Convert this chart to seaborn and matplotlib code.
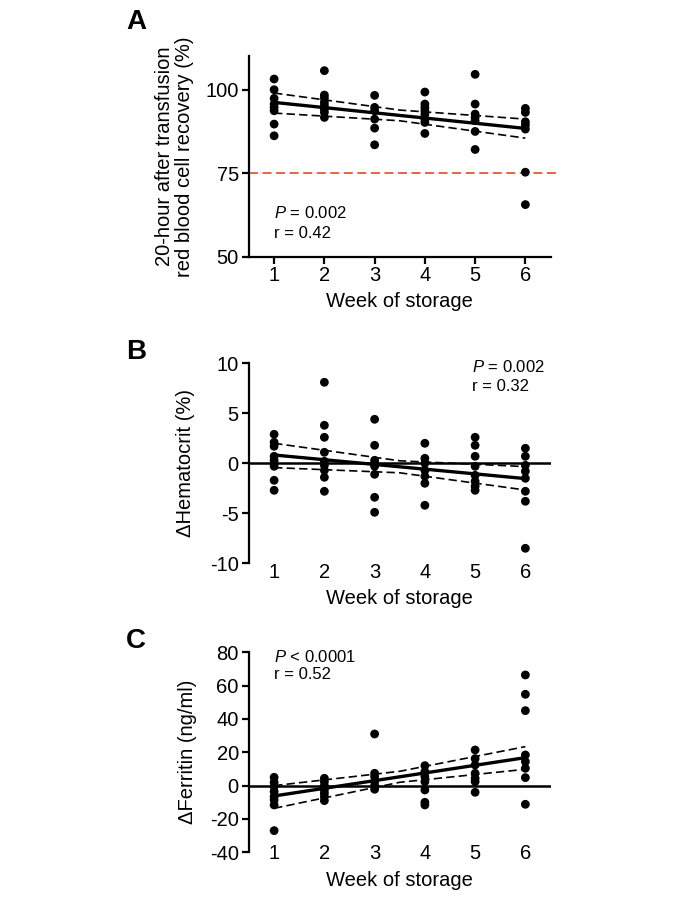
import numpy as np
import pandas as pd
import seaborn as sns
import matplotlib.pyplot as plt

# ---- data ----
weeks = [1, 2, 3, 4, 5, 6]

# panel A: 20-hour post-transfusion recovery (%)
rec_w1 = [103.2, 100.0, 97.4, 95.7, 94.7, 93.7, 89.7, 86.2]
rec_w2 = [105.7, 98.4, 97.5, 96.2, 95.2, 94.2, 93.2, 91.7]
rec_w3 = [98.3, 94.7, 93.7, 91.2, 88.5, 83.5]
rec_w4 = [99.3, 95.7, 94.7, 93.7, 92.7, 91.2, 90.2, 86.9]
rec_w5 = [104.6, 95.7, 92.7, 91.7, 90.7, 87.5, 82.1]
rec_w6 = [94.4, 93.2, 90.4, 89.4, 88.2, 75.3, 65.6]

# panel B: change in hematocrit (%)
hct_w1 = [2.9, 2.1, 1.7, 0.7, 0.3, 0.0, -0.3, -1.7, -2.7]
hct_w2 = [8.1, 3.8, 2.6, 1.1, 0.2, -0.2, -0.7, -1.4, -2.8]
hct_w3 = [4.4, 1.8, 0.3, 0.0, -0.3, -1.1, -3.4, -4.9]
hct_w4 = [2.0, 0.5, 0.0, -0.7, -1.3, -2.0, -4.2]
hct_w5 = [2.6, 1.8, 0.7, -0.3, -1.2, -1.8, -2.3, -2.7]
hct_w6 = [1.5, 0.7, -0.2, -0.8, -1.5, -2.8, -3.8, -8.5]

# panel C: change in ferritin (ng/ml)
fer_w1 = [5.0, 2.0, -0.6, -3.6, -6.6, -8.6, -11.6, -27.0]
fer_w2 = [4.4, 2.4, 0.0, -2.6, -4.6, -6.6, -9.0]
fer_w3 = [31.0, 7.4, 5.4, 2.4, 0.0, -2.2]
fer_w4 = [12.0, 8.4, 5.4, 2.4, -2.6, -10.0, -11.6]
fer_w5 = [21.4, 16.2, 12.4, 7.4, 4.4, 2.4, -4.0]
fer_w6 = [66.4, 54.8, 45.0, 18.4, 14.4, 10.4, 4.8, -11.2]

# regression line and 95% CI
fit_x = [1, 3.5, 6]
rec_fit = [96.2, 92.3, 88.4]
rec_hi = [99.0, 93.9, 91.2]
rec_lo = [93.0, 90.7, 85.5]
hct_fit = [0.83, -0.35, -1.53]
hct_hi = [2.0, 0.25, -0.33]
hct_lo = [-0.43, -0.95, -2.67]
fer_fit = [-6.2, 5.3, 16.8]
fer_hi = [0.0, 8.6, 23.4]
fer_lo = [-13.6, 2.0, 9.8]


def to_frame(groups):
    rows = []
    for wk, vals in zip(weeks, groups):
        rows += [(wk, v) for v in vals]
    return pd.DataFrame(rows, columns=['week', 'value'])


sns.set_theme(style='ticks')
plt.rcParams['font.family'] = ['Liberation Sans', 'DejaVu Sans']
plt.rcParams.update({
    'axes.linewidth': 1.6,
    'axes.unicode_minus': False,
    'text.color': 'black',
    'axes.labelcolor': 'black',
    'axes.edgecolor': 'black',
    'xtick.color': 'black',
    'ytick.color': 'black',
    'mathtext.fontset': 'custom',
    'mathtext.it': 'Liberation Sans:italic',
    'mathtext.rm': 'Liberation Sans',
})

W, H = 677, 902
fig = plt.figure(figsize=(W / 100, H / 100), dpi=100)
FS = 14.5
ANN = 12


def add_ax(top, bottom):
    left, right = 248.5, 551
    return fig.add_axes([left / W, 1 - bottom / H, (right - left) / W, (bottom - top) / H])


def draw_panel(ax, groups, fit, hi, lo):
    df = to_frame(groups)
    sns.scatterplot(data=df, x='week', y='value', color='black', s=40,
                    edgecolor='none', ax=ax, zorder=4, clip_on=False)
    fit_df = pd.DataFrame({'week': fit_x, 'fit': fit, 'hi': hi, 'lo': lo})
    sns.lineplot(data=fit_df, x='week', y='fit', color='black', lw=2.4, ax=ax, zorder=5)
    for col in ['hi', 'lo']:
        sns.lineplot(data=fit_df, x='week', y=col, color='black', lw=1.2,
                     ax=ax, zorder=5, linestyle=(0, (5, 2.5)))
    ax.set_xlim(0.49, 6.51)
    ax.set_xticks(weeks)
    ax.tick_params(labelsize=FS, width=1.6, length=5, pad=2)
    sns.despine(ax=ax)


# ---- A ----
axA = add_ax(56.3, 256.7)
draw_panel(axA, [rec_w1, rec_w2, rec_w3, rec_w4, rec_w5, rec_w6], rec_fit, rec_hi, rec_lo)
axA.axhline(75, color='#e8582d', lw=1.3, ls=(0, (5, 2.5)), zorder=2,
            xmax=1.02, clip_on=False)
axA.set_ylim(50, 110)
axA.set_yticks([50, 75, 100])
axA.spines['left'].set_bounds(50, 110)
axA.set_xlabel('Week of storage', fontsize=FS, labelpad=5)
axA.set_ylabel('20-hour after transfusion\nred blood cell recovery (%)', fontsize=FS,
               linespacing=1.1, labelpad=8)
axA.text(1, 63, r'$P$ = 0.002', fontsize=ANN, va='center')
axA.text(1, 57, 'r = 0.42', fontsize=ANN, va='center')

# ---- B ----
axB = add_ax(363.3, 563.3)
draw_panel(axB, [hct_w1, hct_w2, hct_w3, hct_w4, hct_w5, hct_w6], hct_fit, hct_hi, hct_lo)
axB.set_ylim(-10, 10)
axB.set_yticks([-10, -5, 0, 5, 10])
axB.axhline(0, color='black', lw=1.8, zorder=3)
axB.spines['bottom'].set_visible(False)
axB.tick_params(axis='x', length=0, pad=0)
axB.set_xlabel('Week of storage', fontsize=FS, labelpad=4.6)
axB.set_ylabel('ΔHematocrit (%)', fontsize=FS, labelpad=10.5)
axB.text(4.93, 9.6, r'$P$ = 0.002', fontsize=ANN, va='center')
axB.text(4.93, 7.7, 'r = 0.32', fontsize=ANN, va='center')

# ---- C ----
axC = add_ax(652.3, 852.3)
draw_panel(axC, [fer_w1, fer_w2, fer_w3, fer_w4, fer_w5, fer_w6], fer_fit, fer_hi, fer_lo)
axC.set_ylim(-40, 80)
axC.set_yticks([-40, -20, 0, 20, 40, 60, 80])
axC.axhline(0, color='black', lw=1.8, zorder=3)
axC.spines['bottom'].set_visible(False)
axC.tick_params(axis='x', length=0, pad=-6)
axC.set_xlabel('Week of storage', fontsize=FS, labelpad=6)
axC.set_ylabel('ΔFerritin (ng/ml)', fontsize=FS, labelpad=9)
axC.text(1, 77.4, r'$P$ < 0.0001', fontsize=ANN, va='center')
axC.text(1, 66.4, 'r = 0.52', fontsize=ANN, va='center')

# panel letters
for letter, y in [('A', 22), ('B', 352), ('C', 641)]:
    fig.text(136 / W, 1 - y / H, letter, fontsize=20, fontweight='bold',
             ha='center', va='center')

fig.savefig('out.png', dpi=100)
